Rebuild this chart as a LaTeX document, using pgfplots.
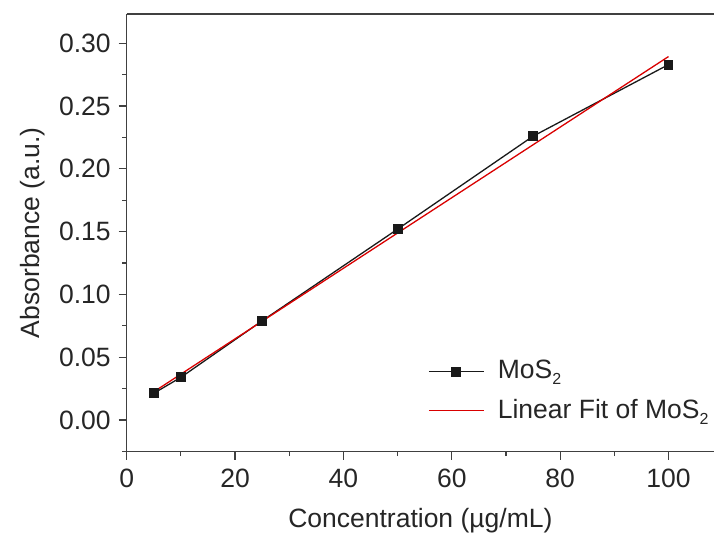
\documentclass[border=0pt]{standalone}
\usepackage{fontspec}
\setmainfont{Liberation Sans}
\usepackage{pgfplots}
\pgfplotsset{compat=1.18}
\newcommand{\sub}[1]{\raisebox{-0.42ex}{\fontsize{16bp}{18bp}\selectfont #1}}
\begin{document}
\fontsize{26.5bp}{31bp}\selectfont
\begin{tikzpicture}
\begin{axis}[
  scale only axis,
  width=587.3bp, height=437.7bp,
  xmin=0, xmax=108.4,
  ymin=-0.0252, ymax=0.3233,
  axis x line*=bottom,
  axis y line*=left,
  axis line style={draw=black!75, line width=1.4bp, -},
  xtick={0,20,...,100},
  minor xtick={10,30,50,70,90},
  ytick={0,0.05,...,0.31},
  minor ytick={-0.025,0.025,0.075,0.125,0.175,0.225,0.275},
  tick align=outside,
  major tick length=8bp,
  minor tick length=4.5bp,
  tick style={draw=black!75, line width=1.2bp},
  /pgf/number format/assume math mode=true,
  yticklabel style={/pgf/number format/fixed, /pgf/number format/fixed zerofill, /pgf/number format/precision=2, font=\fontsize{26.5bp}{31bp}\selectfont, text=black!85, xshift=1bp},
  xticklabel style={font=\fontsize{26.5bp}{31bp}\selectfont, text=black!85},
  scaled y ticks=false,
  xlabel={Concentration (µg/mL)},
  ylabel={Absorbance (a.u.)},
  label style={font=\fontsize{26.5bp}{31bp}\selectfont, text=black!85},
  xlabel style={yshift=-3bp},
  ylabel style={yshift=-4bp},
  legend style={at={(0.508,0.218)}, anchor=north west, draw=none, fill=none,
     font=\fontsize{26.5bp}{31bp}\selectfont, text=black!85, row sep=12bp,
     legend cell align=left},
  legend image code/.code={
     \path[draw=none, fill=none] (0bp,0bp) -- (67bp,0bp);
     \draw[#1] (0bp,0bp) -- (55bp,0bp);
     \draw[#1, only marks] plot coordinates {(27.5bp,0bp)};
  },
  clip=false,
]
\addplot[color=black!90, line width=1.3bp, mark=square*, mark size=4.3bp, mark options={fill=black!90}]
  coordinates {(5,0.0213) (10,0.034) (25,0.079) (50,0.152) (75,0.226) (100,0.283)};
\addlegendentry{MoS\sub{2}}
\addplot[color=red!85!black, line width=1.3bp, mark=none]
  coordinates {(5,0.0225) (100,0.2894)};
\addlegendentry{Linear Fit of MoS\sub{2}}
\draw[draw=black!75, line width=1.4bp] (rel axis cs:0,1) -- (rel axis cs:1,1);
\end{axis}
\pgfresetboundingbox
\path (-126.7bp,-84.3bp) rectangle (587.3bp,451.7bp);
\end{tikzpicture}
\end{document}
